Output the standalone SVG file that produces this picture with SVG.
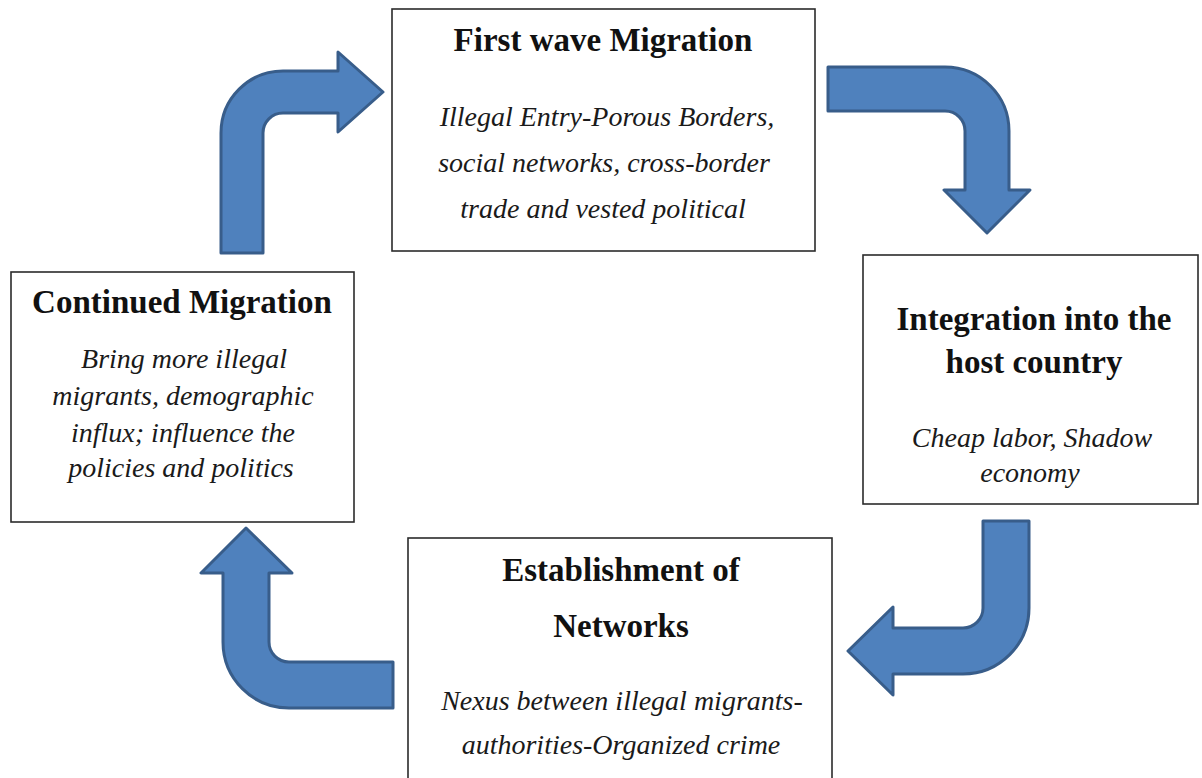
<svg xmlns="http://www.w3.org/2000/svg" width="1202" height="778" viewBox="0 0 1202 778">
  <style>
    .box { fill: #ffffff; stroke: #2b2b2b; stroke-width: 1.6; }
    .arrow { fill: #4f81bd; stroke: #385d8a; stroke-width: 3; stroke-linejoin: round; }
    .title { font-family: "Liberation Serif", "Times New Roman", serif; font-weight: bold; font-size: 33px; fill: #111111; text-anchor: middle; }
    .body { font-family: "Liberation Serif", "Times New Roman", serif; font-style: italic; font-size: 28px; fill: #1a1a1a; text-anchor: middle; }
  </style>
  <rect width="1202" height="778" fill="#ffffff"/>

  <!-- bent block arrows linking the stages -->
  <g id="connectors">
    <path id="arrow-continued-to-first" class="arrow" d="M221,253 L221,133 A62,62 0 0 1 283,71 L338,71 L338,52 L383,92 L338,132 L338,113 L283,113 A20,20 0 0 0 263,133 L263,253 Z"/>
    <path id="arrow-first-to-integration" class="arrow" d="M828,67 L945,67 A64,64 0 0 1 1009,131 L1009,190 L1030,190 L987,233 L944,190 L965,190 L965,131 A20,20 0 0 0 945,111 L828,111 Z"/>
    <path id="arrow-integration-to-networks" class="arrow" d="M983,521 L1029,521 L1029,608 A66,66 0 0 1 963,674 L893,674 L893,695 L848,651 L893,607 L893,628 L963,628 A20,20 0 0 0 983,608 Z"/>
    <path id="arrow-networks-to-continued" class="arrow" d="M393,662 L289,662 A20,20 0 0 1 269,642 L269,573 L292,573 L246,528 L201,573 L223,573 L223,642 A66,66 0 0 0 289,708 L393,708 Z"/>
  </g>

  <g id="first-wave">
    <rect class="box" x="392" y="9" width="423" height="242"/>
    <text class="title" x="603" y="51">First wave Migration</text>
    <text class="body" x="607" y="126">Illegal Entry-Porous Borders,</text>
    <text class="body" x="604" y="172">social networks, cross-border</text>
    <text class="body" x="603" y="218">trade and vested political</text>
  </g>

  <g id="integration">
    <rect class="box" x="863" y="255" width="335" height="249"/>
    <text class="title" x="1034" y="330">Integration into the</text>
    <text class="title" x="1034" y="373">host country</text>
    <text class="body" x="1032" y="447">Cheap labor, Shadow</text>
    <text class="body" x="1030" y="482">economy</text>
  </g>

  <g id="networks">
    <rect class="box" x="408" y="538" width="424" height="260"/>
    <text class="title" x="621" y="581">Establishment of</text>
    <text class="title" x="621" y="637">Networks</text>
    <text class="body" x="622" y="710">Nexus between illegal migrants-</text>
    <text class="body" x="621" y="754">authorities-Organized crime</text>
  </g>

  <g id="continued">
    <rect class="box" x="11" y="272" width="343" height="250"/>
    <text class="title" x="182" y="313">Continued Migration</text>
    <text class="body" x="184" y="368">Bring more illegal</text>
    <text class="body" x="183" y="405">migrants, demographic</text>
    <text class="body" x="183" y="442">influx; influence the</text>
    <text class="body" x="181" y="477">policies and politics</text>
  </g>
</svg>
